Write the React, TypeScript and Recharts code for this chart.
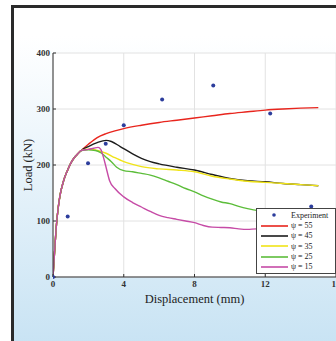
import { ComposedChart, Line, Scatter, XAxis, YAxis, CartesianGrid, Label } from 'recharts';

// displacement (mm), load (kN)
const experiment = [
  [0, 0], [0.83, 108], [1.98, 203], [2.98, 238], [4.0, 271],
  [6.17, 317], [9.06, 342], [12.28, 292], [14.6, 126],
];

// common elastic rise shared by every model curve
const rise = [
  [0, 0], [0.05, 25], [0.1, 50], [0.2, 95], [0.3, 125], [0.4, 146],
  [0.6, 172], [0.8, 189], [1.0, 203], [1.2, 213], [1.4, 220], [1.6, 226],
];

const psi55 = [
  [2.0, 237], [2.5, 249], [3.0, 256], [3.5, 261], [4.0, 265], [5.0, 271],
  [6.0, 276], [7.0, 280], [8.0, 284], [9.0, 288], [10.0, 292], [11.0, 295],
  [12.0, 298], [13.0, 300], [14.0, 301.5], [15.0, 302.5],
];

const psi45 = [
  [2.0, 233], [2.5, 240], [3.0, 244], [3.3, 242], [3.8, 233], [4.5, 220],
  [5.0, 212], [5.5, 206], [6.0, 202], [7.0, 196], [8.0, 191], [9.0, 183],
  [10.0, 176], [11.0, 172], [12.0, 170], [13.0, 167], [14.0, 165], [15.0, 163],
];

const psi35 = [
  [2.0, 228], [2.4, 227], [3.0, 221], [3.5, 213], [4.0, 206], [4.5, 201],
  [5.0, 197], [6.0, 193], [7.0, 191], [8.0, 188], [9.0, 180], [10.0, 175],
  [11.0, 171], [12.0, 169], [13.0, 167], [14.0, 165], [15.0, 163],
];

const psi25 = [
  [2.0, 227], [2.4, 226], [2.7, 222], [3.0, 214], [3.3, 206], [3.6, 196],
  [4.0, 190], [4.5, 188], [5.0, 185], [5.5, 182], [6.0, 177], [6.5, 171],
  [7.0, 165], [7.5, 158], [8.0, 152], [8.5, 145], [9.0, 139], [9.5, 134],
  [10.0, 131], [10.5, 126], [11.0, 122], [11.5, 119], [12.0, 116],
  [13.0, 112], [14.0, 108], [15.0, 105],
];

const psi15 = [
  [2.0, 228], [2.3, 230], [2.55, 231.5], [2.7, 228], [2.85, 214], [3.0, 196],
  [3.2, 172], [3.5, 158], [4.0, 143], [4.5, 133], [5.0, 125], [5.5, 117],
  [6.0, 110], [6.5, 106], [7.0, 103], [7.5, 100], [8.0, 97], [8.5, 92],
  [9.0, 89], [9.5, 88.5], [10.0, 88], [10.5, 86], [11.0, 85], [11.5, 86],
  [12.0, 85], [13.0, 84], [14.0, 83], [15.0, 82],
];

const xTicks = [0, 4, 8, 12, 16];
const yTicks = [0, 100, 200, 300, 400];

const series = [
  { name: 'ψ = 55', points: psi55, color: '#e8251d' },
  { name: 'ψ = 45', points: psi45, color: '#1c1c1c' },
  { name: 'ψ = 35', points: psi35, color: '#f0e418' },
  { name: 'ψ = 25', points: psi25, color: '#5cbd3a' },
  { name: 'ψ = 15', points: psi15, color: '#c64ba6' },
];

const toRows = (pts: number[][]) => pts.map(([x, y]) => ({ x, y }));

const DOT = '#2c3d9c';
const FONT = '"Liberation Serif", "DejaVu Serif", serif';
const TICK = { fill: '#333', fontSize: 9, fontFamily: FONT, fontWeight: 'bold' as const };
const AXIS_LINE = { stroke: '#333', strokeWidth: 1 };

function LegendBox() {
  return (
    <div
      style={{
        position: 'absolute', left: 256, top: 208, width: 78, height: 63,
        background: '#fff', border: '1px solid #444', fontFamily: FONT,
        fontSize: 8, color: '#222', padding: '1px 0 0 0',
      }}
    >
      <div style={{ display: 'flex', alignItems: 'center', height: 10.5 }}>
        <svg width={34} height={10}>
          <circle cx={17} cy={5} r={1.8} fill={DOT} />
        </svg>
        <span>Experiment</span>
      </div>
      {series.map((s) => (
        <div key={s.name} style={{ display: 'flex', alignItems: 'center', height: 10.3 }}>
          <svg width={34} height={10}>
            <line x1={4} x2={31} y1={5} y2={5} stroke={s.color} strokeWidth={1.6} />
          </svg>
          <span>{s.name}</span>
        </div>
      ))}
    </div>
  );
}

export default function App() {
  return (
    <div style={{ position: 'absolute', left: 0, top: 0, width: 336, height: 341, overflow: 'hidden', background: '#fff', fontFamily: FONT }}>
      <div
        style={{
          position: 'absolute', left: 11, top: 5, width: 340, height: 350,
          border: '3px solid #2a2a2a',
          background: 'linear-gradient(to bottom, #ffffff 8%, #eff7fc 35%, #c6e2f3 100%)',
        }}
      />
      <div style={{ position: 'absolute', left: 0, top: 0 }}>
        <ComposedChart width={360} height={341} margin={{ top: 53, right: 24, bottom: 24, left: 0 }}>
          <CartesianGrid stroke="#e2e2e2" fill="#fff" />
          <XAxis
            type="number" dataKey="x" domain={[0, 16]} ticks={xTicks} height={40}
            tick={TICK} tickSize={-3} tickMargin={7} axisLine={AXIS_LINE} tickLine={AXIS_LINE}
            allowDataOverflow
          >
            <Label value="Displacement (mm)" position="center" style={{ fontFamily: FONT, fontSize: 12.5, fill: '#222' }} dy={2} />
          </XAxis>
          <XAxis
            xAxisId="top" orientation="top" type="number" domain={[0, 16]} ticks={xTicks} height={0}
            tickFormatter={() => ''} tickSize={-3} axisLine={AXIS_LINE} tickLine={AXIS_LINE}
          />
          <YAxis
            type="number" domain={[0, 400]} ticks={yTicks} width={53}
            tick={TICK} tickSize={-3} tickMargin={6} axisLine={AXIS_LINE} tickLine={AXIS_LINE}
          >
            <Label value="Load (kN)" angle={-90} position="center" dx={1} style={{ fontFamily: FONT, fontSize: 12.5, fill: '#222' }} />
          </YAxis>
          {series.map((s) => (
            <Line
              key={s.name}
              data={toRows([...rise, ...s.points])}
              dataKey="y"
              type="monotone"
              stroke={s.color}
              strokeWidth={1.4}
              dot={false}
              isAnimationActive={false}
            />
          ))}
          <Scatter
            data={toRows(experiment)}
            dataKey="y"
            fill={DOT}
            isAnimationActive={false}
            shape={(p: any) => <circle cx={p.cx} cy={p.cy} r={2} fill={DOT} />}
          />
        </ComposedChart>
      </div>
      <LegendBox />
    </div>
  );
}
